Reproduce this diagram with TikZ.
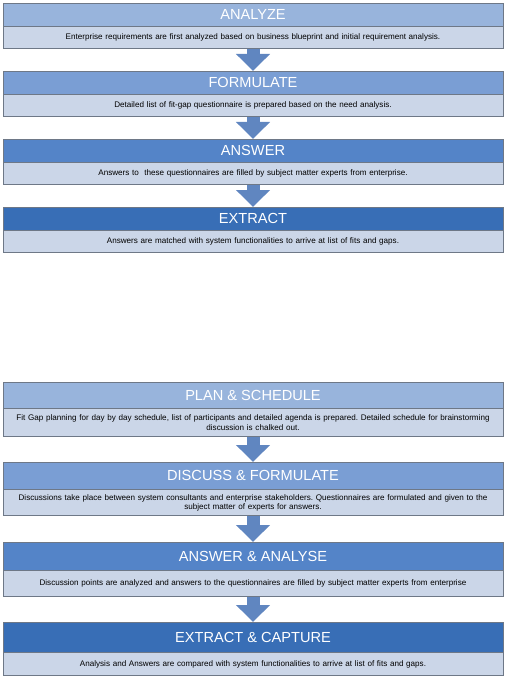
\documentclass[tikz,border=0pt]{standalone}
\usepackage{fontspec}
\setmainfont{Liberation Sans}
\usetikzlibrary{arrows.meta,positioning}
\frenchspacing
\definecolor{stepA}{RGB}{152,180,220}
\definecolor{stepB}{RGB}{122,158,212}
\definecolor{stepC}{RGB}{84,132,200}
\definecolor{stepD}{RGB}{56,110,182}
\definecolor{bodyfill}{RGB}{203,214,232}
\definecolor{boxgray}{RGB}{110,120,135}
\definecolor{arrblue}{RGB}{96,134,192}
\tikzset{
  hdr/.style={draw=boxgray, minimum width=500pt, minimum height=23pt, inner sep=0pt,
    text=white, font=\fontsize{14.6}{16}\selectfont},
  txt/.style={draw=boxgray, fill=bodyfill, minimum width=500pt, minimum height=22pt,
    inner sep=0pt, text width=496pt, align=center, font=\fontsize{8.1}{9.4}\selectfont},
  blockarr/.style={draw=arrblue, line width=13pt, -{Triangle[width=33pt, length=17pt]}},
}
\begin{document}
\begin{tikzpicture}[x=1pt, y=1pt]
  \useasboundingbox (0,0) rectangle (509,-682);
  % fit-gap steps, short form
  \node[hdr, fill=stepA, anchor=north] (h1) at (253,-3) {ANALYZE};
  \node[txt, below=0pt of h1] (b1) {Enterprise requirements are first analyzed based on business blueprint and initial requirement analysis.};
  \node[hdr, fill=stepB, anchor=north] (h2) at (253,-71) {FORMULATE};
  \node[txt, below=0pt of h2] (b2) {Detailed list of fit-gap questionnaire is prepared based on the need analysis.};
  \node[hdr, fill=stepC, anchor=north] (h3) at (253,-139) {ANSWER};
  \node[txt, below=0pt of h3] (b3) {Answers to\ \ these questionnaires are filled by subject matter experts from enterprise.};
  \node[hdr, fill=stepD, anchor=north] (h4) at (253,-207) {EXTRACT};
  \node[txt, below=0pt of h4] (b4) {Answers are matched with system functionalities to arrive at list of fits and gaps.};
  \draw[blockarr] (b1.south) -- (h2.north);
  \draw[blockarr] (b2.south) -- (h3.north);
  \draw[blockarr] (b3.south) -- (h4.north);
  % fit-gap steps, workshop form
  \node[hdr, fill=stepA, minimum height=26pt, anchor=north] (p1) at (253,-382) {PLAN \& SCHEDULE};
  \node[txt, minimum height=28pt, below=0pt of p1] (q1) {Fit Gap planning for day by day schedule, list of participants and detailed agenda is prepared. Detailed schedule for brainstorming\\ discussion is chalked out.};
  \node[hdr, fill=stepB, minimum height=27pt, anchor=north] (p2) at (253,-462) {DISCUSS \& FORMULATE};
  \node[txt, minimum height=26pt, below=0pt of p2] (q2) {Discussions take place between system consultants and enterprise stakeholders. Questionnaires are formulated and given to the\\ subject matter of experts for answers.};
  \node[hdr, fill=stepC, minimum height=28pt, anchor=north] (p3) at (253,-542) {ANSWER \& ANALYSE};
  \node[txt, minimum height=26pt, below=0pt of p3] (q3) {Discussion points are analyzed and answers to the questionnaires are filled by subject matter experts from enterprise};
  \node[hdr, fill=stepD, minimum height=30pt, anchor=north] (p4) at (253,-622) {EXTRACT \& CAPTURE};
  \node[txt, minimum height=23pt, below=0pt of p4] (q4) {Analysis and Answers are compared with system functionalities to arrive at list of fits and gaps.};
  \draw[blockarr] (q1.south) -- (p2.north);
  \draw[blockarr] (q2.south) -- (p3.north);
  \draw[blockarr] (q3.south) -- (p4.north);
\end{tikzpicture}
\end{document}
